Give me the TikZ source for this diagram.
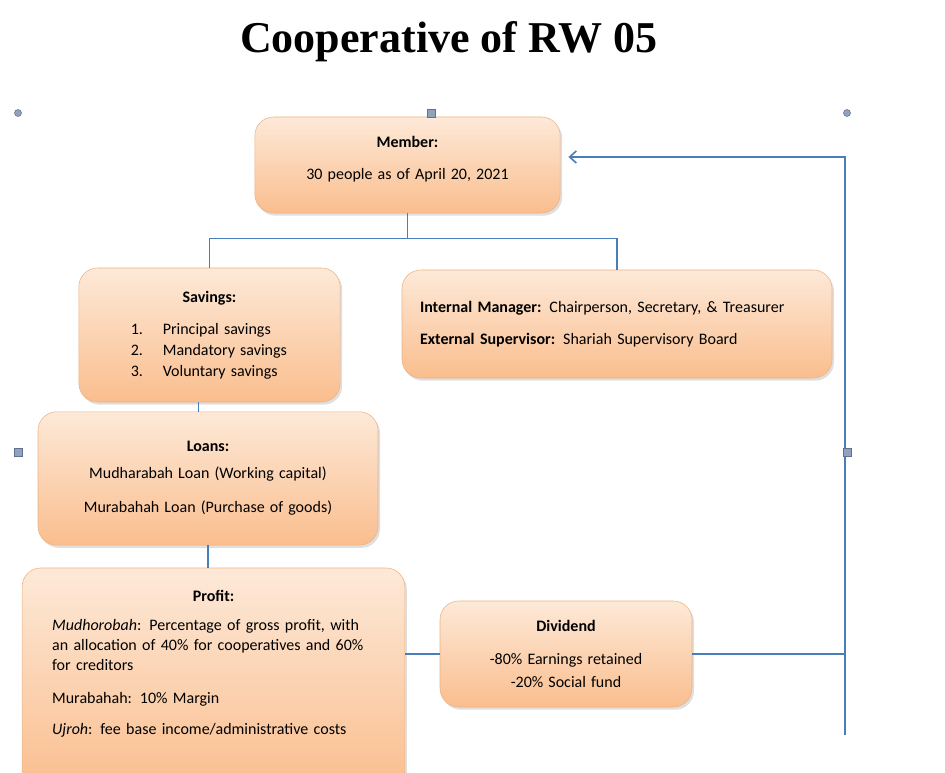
\documentclass[tikz,border=0pt]{standalone}
\usepackage{fontspec}
\setmainfont{Carlito}
\newfontfamily\titlefont{Liberation Serif}
\usetikzlibrary{positioning,arrows.meta,calc,shadows}
\definecolor{boxtop}{RGB}{253,233,216}
\definecolor{boxbottom}{RGB}{250,190,142}
\definecolor{boxline}{RGB}{236,178,130}
\definecolor{linkblue}{RGB}{74,126,187}
\definecolor{handlefill}{RGB}{146,162,190}
\definecolor{handleline}{RGB}{96,114,146}
\newcommand{\boxfont}{\fontsize{12}{14}\selectfont\spaceskip=0.32em plus 0.1em\relax}

\begin{document}
\begin{tikzpicture}[x=0.75pt,y=-0.75pt,>={Straight Barb[length=5pt,width=9pt,line width=1.2pt]},
  box/.style={draw=boxline,rounded corners=14pt,top color=boxtop,bottom color=boxbottom,
    drop shadow={opacity=0.25,shadow xshift=1.5pt,shadow yshift=-2pt},
    font=\boxfont,align=center,inner sep=0pt},
  conn/.style={draw=linkblue,line width=0.8pt},
  handle/.style={draw=handleline,fill=handlefill,line width=0.4pt}]
  \useasboundingbox (0,0) rectangle (945,773);
  \node[font=\titlefont\bfseries\fontsize{33}{33}\selectfont] (title) at (449,42) {Cooperative of RW 05};

  \node[box,minimum width=229pt,minimum height=72pt] (member) at (407.5,165)
    {\textbf{Member:}\\[10pt]30 people as of April 20, 2021\\[-4pt]\mbox{}};
  \node[box,minimum width=196pt,minimum height=100.5pt] (savings) at (209.5,335)
    {\textbf{Savings:}\\[10pt]\makebox[118pt][l]{\makebox[24pt][l]{1.}Principal savings}\\[1.75pt]
     \makebox[118pt][l]{\makebox[24pt][l]{2.}Mandatory savings}\\[1.75pt]
     \makebox[118pt][l]{\makebox[24pt][l]{3.}Voluntary savings}};
  \node[box,minimum width=322.5pt,minimum height=81pt,text width=295.5pt,align=left] (internal) at (617,324)
    {\textbf{Internal Manager:} Chairperson, Secretary, \& Treasurer\\[10pt]
     \textbf{External Supervisor:} Shariah Supervisory Board};
  \node[box,minimum width=255pt,minimum height=100pt] (loans) at (208,478.5)
    {\textbf{Loans:}\\[6pt]Mudharabah Loan (Working capital)\\[12pt]Murabahah Loan (Purchase of goods)};
  \node[box,minimum width=287pt,minimum height=166.5pt,text width=242pt,align=left] (profit) at (213.5,679)
    {\makebox[\linewidth]{\textbf{Profit:}}\\[7.75pt]
     \textit{Mudhorobah}: Percentage of gross profit, with\\[1pt]
     an allocation of 40\% for cooperatives and 60\%\\[1pt]
     for creditors\\[10.75pt]
     Murabahah: 10\% Margin\\[9.25pt]
     \textit{Ujroh}: fee base income/administrative costs\\[11pt]\mbox{}};
  \node[box,minimum width=189pt,minimum height=79.5pt] (dividend) at (566,654)
    {\textbf{Dividend}\\[10.75pt]-80\% Earnings retained\\[3.25pt]-20\% Social fund};

  % connectors
  \coordinate (fork) at ($(member.south)+(0,25)$);
  \coordinate (loopbot) at (845,735);
  \coordinate (looptop) at (845,157);
  \draw[conn] (member.south) -- (fork);
  \draw[conn] (savings.north) |- (fork) -| (internal.north);
  \draw[conn] ([xshift=-8.5pt]savings.south) -- ([xshift=-8.5pt]savings.south |- loans.north);
  \draw[conn] (loans.south) -- (loans.south |- profit.north);
  \draw[conn] (dividend.west -| profit.east) -- (dividend.west);
  \draw[conn] (dividend.east) -- (dividend.east -| loopbot);
  \draw[conn,->] (loopbot) -- (looptop) -- ([xshift=6pt]member.east |- looptop);

  % selection handles
  \draw[handle] (18,113) circle (3.5);
  \draw[handle] (847,113) circle (3.5);
  \foreach \hx/\hy in {431/113,18/452,847/452}
    \draw[handle] (\hx-4,\hy-4) rectangle (\hx+4,\hy+4);
\end{tikzpicture}
\end{document}
